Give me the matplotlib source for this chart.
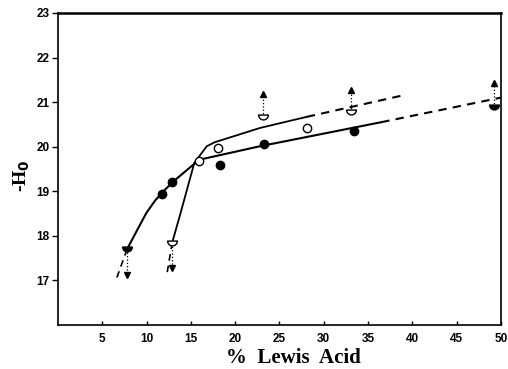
import matplotlib
matplotlib.use("Agg")
import matplotlib.pyplot as plt
from matplotlib.path import Path

# measured points
filled_x = [11.8, 12.9, 18.3, 23.3, 33.4]
filled_y = [18.93, 19.21, 19.6, 20.05, 20.35]
open_x = [15.95, 18.1, 28.1]
open_y = [19.67, 19.97, 20.43]

# limit points (half symbols) with arrow tips
half_filled_x = [7.8, 49.2]
half_filled_y = [17.7, 20.88]
half_filled_tip = [17.12, 21.43]
half_open_x = [12.9, 23.2, 33.1]
half_open_y = [17.85, 20.67, 20.78]
half_open_tip = [17.28, 21.19, 21.28]

# fitted curves
fit_f_x = [7.8, 9.0, 10.0, 11.0, 12.1, 13.5, 15.3, 16.0, 22.8, 36.5]
fit_f_y = [17.7, 18.15, 18.52, 18.8, 19.04, 19.3, 19.6, 19.71, 20.01, 20.55]
ext_f_x = [36.5, 50.0]
ext_f_y = [20.55, 21.1]
low_f_x = [7.8, 6.5]
low_f_y = [17.7, 16.98]

fit_o_x = [12.9, 13.8, 15.4, 16.2, 16.8, 17.7, 22.8, 28.1]
fit_o_y = [17.85, 18.48, 19.64, 19.85, 20.01, 20.1, 20.42, 20.67]
ext_o_x = [28.1, 38.7]
ext_o_y = [20.67, 21.14]
low_o_x = [12.9, 12.3]
low_o_y = [17.85, 17.14]

x_ticks = [5, 10, 15, 20, 25, 30, 35, 40, 45, 50]
y_ticks = [17, 18, 19, 20, 21, 22, 23]

# lower half circle, shifted so the symbol sits centred on the point
w = Path.wedge(180, 360)
half_circle = Path(w.vertices + [0, 0.5], w.codes)

fig = plt.figure(figsize=(5.08, 3.69), dpi=100)
ax = fig.add_axes([0.114, 0.119, 0.872, 0.846])

dash = (0, (4, 3))
ax.plot(fit_f_x, fit_f_y, color="black", lw=1.5)
ax.plot(ext_f_x, ext_f_y, color="black", lw=1.5, linestyle=dash)
ax.plot(low_f_x, low_f_y, color="black", lw=1.2, linestyle=dash)
ax.plot(fit_o_x, fit_o_y, color="black", lw=1.3)
ax.plot(ext_o_x, ext_o_y, color="black", lw=1.5, linestyle=dash)
ax.plot(low_o_x, low_o_y, color="black", lw=1.2, linestyle=dash)

# arrows (dotted shaft + triangle head)
for x, y0, y1 in zip(half_filled_x + half_open_x,
                     half_filled_y + half_open_y,
                     half_filled_tip + half_open_tip):
    ax.plot([x, x], [y0, y1], color="black", lw=0.9, linestyle=":")
    ax.plot([x], [y1], marker="^" if y1 > y0 else "v", color="black",
            ms=5, linestyle="none")

ax.plot(filled_x, filled_y, "o", color="black", ms=6, linestyle="none")
ax.plot(open_x, open_y, "o", mfc="white", mec="black", mew=1.0, ms=6,
        linestyle="none")
ax.plot(half_filled_x, half_filled_y, marker=half_circle, color="black",
        ms=7, linestyle="none")
ax.plot(half_open_x, half_open_y, marker=half_circle, mfc="white",
        mec="black", mew=1.0, ms=7, linestyle="none")

ax.set_xlim(0, 50)
ax.set_ylim(16, 23)
ax.set_xticks(x_ticks)
ax.set_yticks(y_ticks)
ax.set_xticklabels([str(t) for t in x_ticks], fontsize=8.5,
                   fontweight="bold", family="Liberation Sans")
ax.set_yticklabels([str(t) for t in y_ticks], fontsize=8.5,
                   fontweight="bold", family="Liberation Sans")
ax.tick_params(axis="x", direction="in", length=3, width=1, pad=6)
ax.tick_params(axis="y", direction="out", length=4, width=1, pad=2)
for s in ax.spines.values():
    s.set_linewidth(1.2)
ax.spines["top"].set_linewidth(1.8)

ax.set_xlabel("%  Lewis  Acid", fontsize=15, fontweight="bold",
              family="Liberation Serif")
ax.xaxis.set_label_coords(0.532, -0.072)
ax.set_ylabel(r"-H$_\mathbf{0}$", fontsize=14, fontweight="bold",
              family="Liberation Serif")
ax.yaxis.set_label_coords(-0.058, 0.48)

fig.savefig("out.png", dpi=100)
